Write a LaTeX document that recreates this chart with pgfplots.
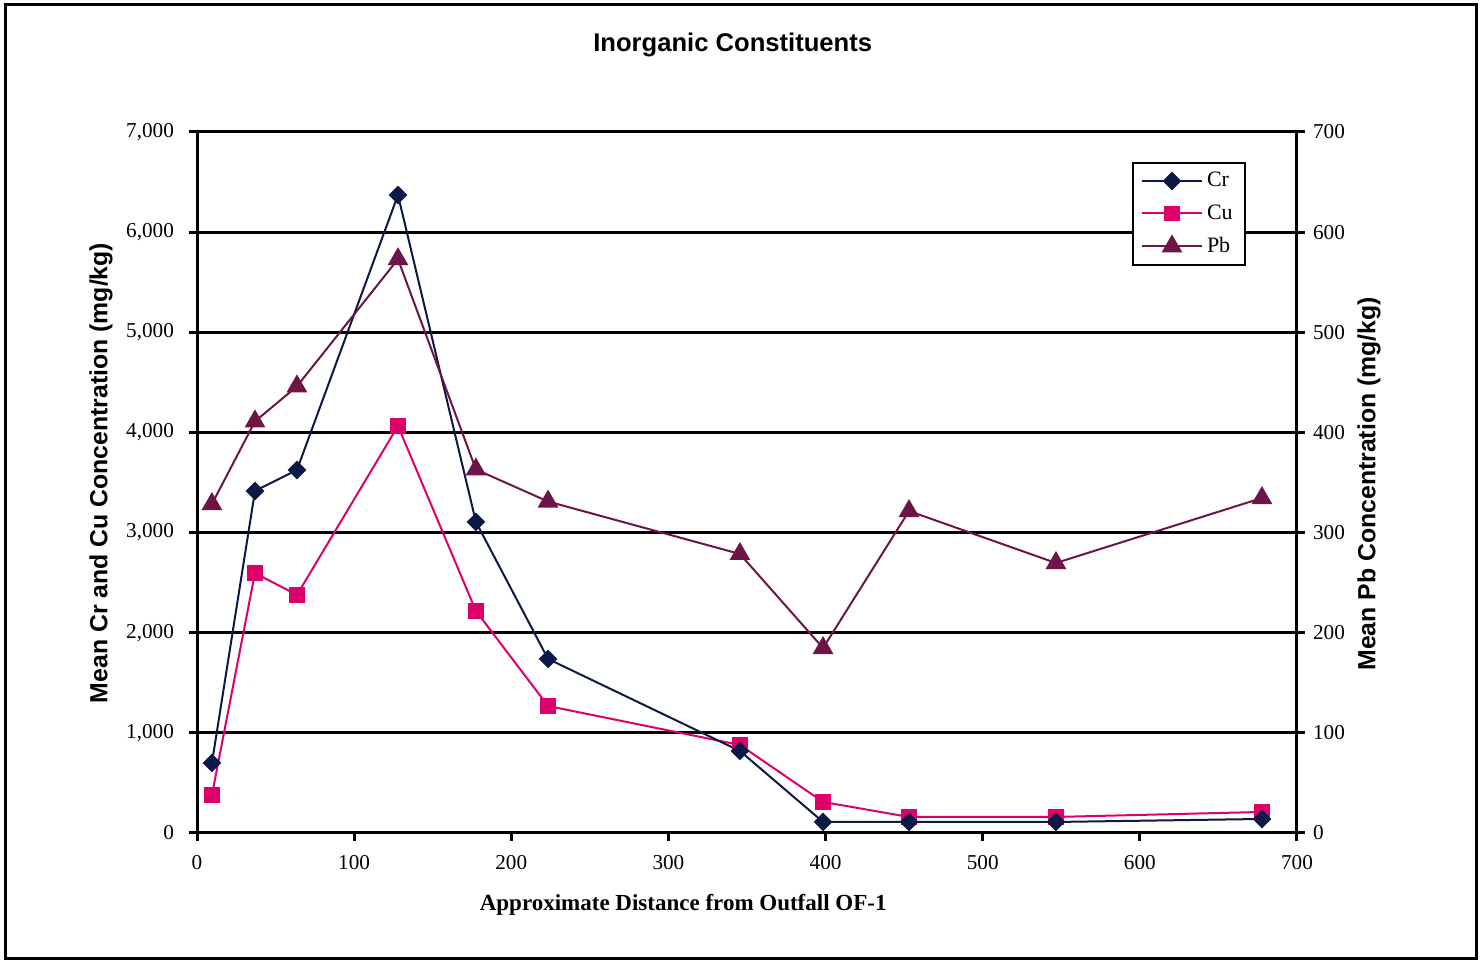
\documentclass[border=0pt]{standalone}
\usepackage{pgfplots}
\pgfplotsset{compat=1.18}
\usepackage{pgfplotstable}
\usepackage{fontspec}
\setmainfont{Liberation Serif}
\newfontfamily\arial{Liberation Sans}
\definecolor{crc}{RGB}{12,25,70}
\definecolor{cuc}{RGB}{221,0,106}
\definecolor{pbc}{RGB}{110,20,70}

\pgfplotstableread{
x     cr    cu    pb
9.5   699   379   328.5
36.9  3415  2596  411
63.6  3625  2377  446
127.9 6371  4064  573
177.5 3106  2217  363
223.4 1738  1268  331
345.5 819   879   278.6
398.4 110   310   184.7
453.1 110   160   321.5
546.6 110   160   269.6
677.7 140   210   334.5
}\datatable

\pgfplotsset{
  crstyle/.style={color=crc, line width=1pt, mark=square*, mark size=2.8pt, mark options={rotate=45, solid}},
  custyle/.style={color=cuc, line width=1pt, mark=square*, mark size=3.3pt, mark options={solid}},
  pbstyle/.style={color=pbc, line width=1pt, mark=triangle*, mark size=5pt, mark options={solid}},
  common/.style={
    at={(98.5pt,64pt)}, anchor=south west,
    scale only axis, width=550pt, height=350.5pt,
    xmin=0, xmax=700,
    axis line style={line width=1.5pt, -},
    tick style={line width=1.5pt, black},
    tick align=outside, major tick length=4pt,
    /pgf/number format/assume math mode=true,
    tick label style={font=\fontsize{10.6}{12}\selectfont},
    scaled ticks=false,
    clip=false,
  },
}

\begin{document}
\begin{tikzpicture}
\path[use as bounding box] (0,0) rectangle (740pt,480.5pt);
\draw[line width=1.5pt] (2.75pt,1pt) rectangle (738pt,478.2pt);

\begin{axis}[common,
  ymin=0, ymax=7000,
  axis x line*=bottom, axis y line*=left,
  xtick={0,100,...,700}, ytick={0,1000,...,7000},
  ymajorgrids, major grid style={line width=1.5pt, black},
  /pgf/number format/1000 sep={,},
  yticklabel style={xshift=-4pt},
  xticklabel style={yshift=-3.5pt},
  title={\arial\bfseries\fontsize{12.8}{15}\selectfont Inorganic Constituents},
  title style={at={(axis description cs:0.487,1.107)}, anchor=center},
  xlabel={\bfseries\fontsize{11.5}{14}\selectfont Approximate Distance from Outfall OF-1},
  xlabel style={at={(axis description cs:0.442,-0.102)}, anchor=center},
  ylabel={\arial\bfseries\fontsize{12.4}{15}\selectfont Mean Cr and Cu Concentration (mg/kg)},
  ylabel style={at={(axis description cs:-0.0873,0.5136)}, anchor=center, rotate=0},
]
\addplot[custyle] table[x=x, y=cu] {\datatable};
\addplot[crstyle] table[x=x, y=cr] {\datatable};
\end{axis}

\begin{axis}[common,
  ymin=0, ymax=700,
  axis x line=none, axis y line*=right,
  ytick={0,100,...,700},
  yticklabel style={xshift=0.5pt},
  ylabel={\arial\bfseries\fontsize{12.4}{15}\selectfont Mean Pb Concentration (mg/kg)},
  ylabel style={at={(axis description cs:1.0655,0.498)}, anchor=center, rotate=0},
  legend style={at={(axis description cs:0.85,0.957)}, anchor=north west,
    draw=black, line width=1pt, fill=white,
    font=\fontsize{11}{12}\selectfont,
    inner xsep=4pt, inner ysep=2.5pt, row sep=3.5pt},
  legend cell align=left,
  legend image code/.code={
    \draw[mark repeat=2, mark phase=2] plot coordinates {(0pt,0pt) (15pt,0pt) (30pt,0pt)};
  },
]
\addlegendimage{crstyle}
\addlegendimage{custyle}
\addplot[pbstyle] table[x=x, y=pb] {\datatable};
\legend{Cr, Cu, Pb}
\end{axis}
\end{tikzpicture}
\end{document}
